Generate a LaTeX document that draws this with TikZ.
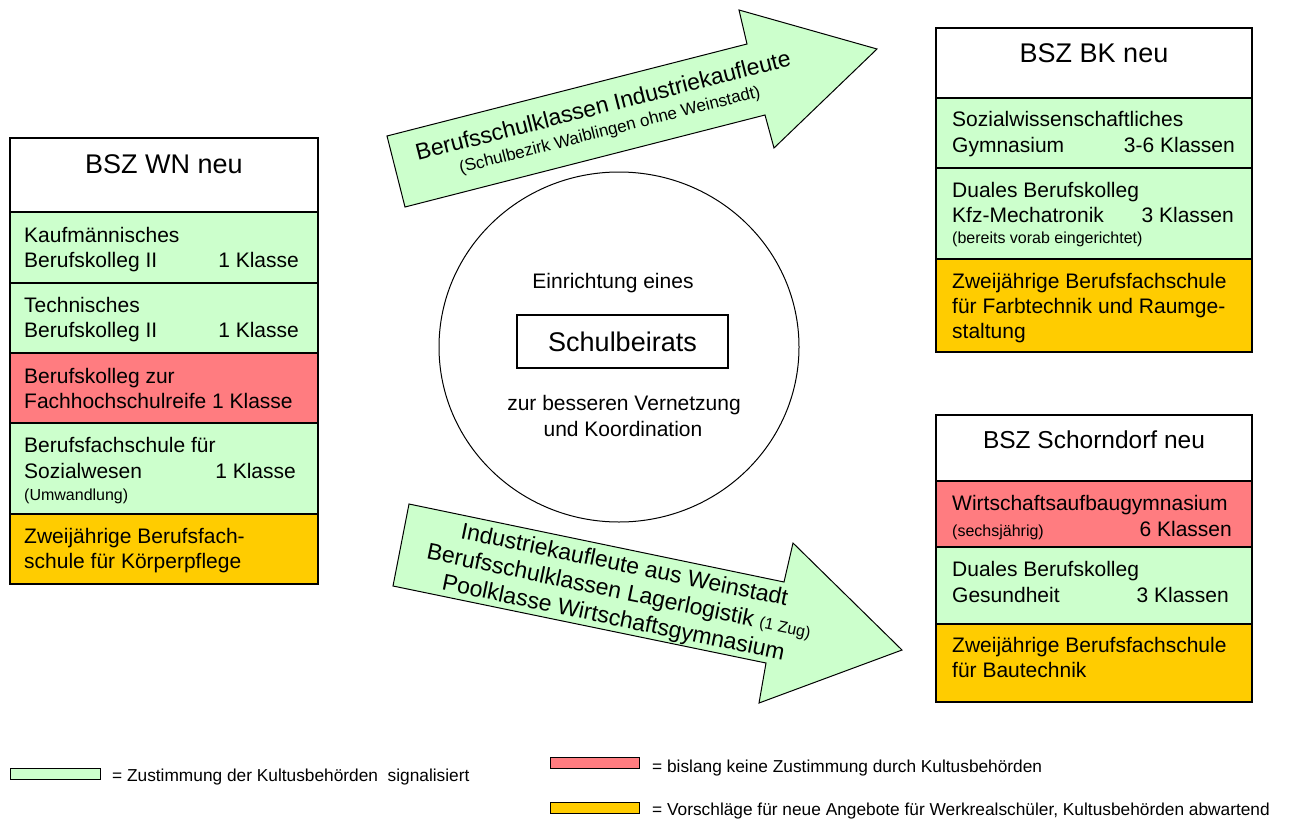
\documentclass[tikz,border=0pt]{standalone}
\usepackage{fontspec}
\setmainfont{Liberation Sans}
\usetikzlibrary{shapes.geometric}
\definecolor{gr}{HTML}{CCFFCC}
\definecolor{rd}{HTML}{FF7C80}
\definecolor{og}{HTML}{FFCC00}
\tikzset{
  cell/.style={draw=black, line width=1.2pt, anchor=north west, inner sep=0pt, outer sep=0pt},
  wncell/.style={cell, minimum width=308pt},
  rcell/.style={cell, minimum width=316pt},
  txt/.style={anchor=base west, inner sep=0pt, font=\fontsize{21}{25}\selectfont},
  rtxt/.style={anchor=base east, inner sep=0pt, font=\fontsize{21}{25}\selectfont},
  smalltxt/.style={anchor=base west, inner sep=0pt, font=\fontsize{16}{19}\selectfont},
  titletxt/.style={anchor=base, inner sep=0pt, font=\fontsize{26}{30}\selectfont},
  arrowshape/.style={draw=black, line width=1pt, fill=gr, line join=miter},
  arrtxt/.style={anchor=base, inner sep=0pt, font=\fontsize{23}{27}\selectfont},
  lgbox/.style={draw=black, line width=1.3pt, anchor=north west, inner sep=0pt, minimum height=11pt},
  lgtxt/.style={anchor=base west, inner sep=0pt, font=\fontsize{17.3}{20}\selectfont}
}
\begin{document}
\begin{tikzpicture}[x=1pt,y=-1pt]
\useasboundingbox[fill=white] (0,0) rectangle (1297,819);

% ---------- BSZ WN neu ----------
\node[wncell, fill=white, minimum height=74pt] (wn0) at (10,138) {};
\node[wncell, fill=gr, minimum height=71pt] (wn1) at (10,212) {};
\node[wncell, fill=gr, minimum height=70pt] (wn2) at (10,283) {};
\node[wncell, fill=rd, minimum height=70pt] (wn3) at (10,353) {};
\node[wncell, fill=gr, minimum height=91pt] (wn4) at (10,423) {};
\node[wncell, fill=og, minimum height=70pt] (wn5) at (10,514) {};
\node[titletxt, font=\fontsize{27}{30}\selectfont] (wnt) at (164,173) {BSZ WN neu};
\node[txt] (wn1a) at (24,242) {Kaufmännisches};
\node[txt] (wn1b) at (24,267) {Berufskolleg II};
\node[rtxt] (wn1c) at (299,267) {1 Klasse};
\node[txt] (wn2a) at (24,312) {Technisches};
\node[txt] (wn2b) at (24,337) {Berufskolleg II};
\node[rtxt] (wn2c) at (299,337) {1 Klasse};
\node[txt] (wn3a) at (24,383) {Berufskolleg zur};
\node[txt] (wn3b) at (24,408) {Fachhochschulreife 1 Klasse};
\node[txt] (wn4a) at (24,452) {Berufsfachschule für};
\node[txt] (wn4b) at (24,478) {Sozialwesen};
\node[rtxt] (wn4c) at (296,478) {1 Klasse};
\node[smalltxt] (wn4d) at (24,500) {(Umwandlung)};
\node[txt] (wn5a) at (24,543) {Zweijährige Berufsfach-};
\node[txt] (wn5b) at (24,568) {schule für Körperpflege};

% ---------- BSZ BK neu ----------
\node[rcell, fill=white, minimum height=70pt] (bk0) at (936,28) {};
\node[rcell, fill=gr, minimum height=70pt] (bk1) at (936,98) {};
\node[rcell, fill=gr, minimum height=91pt] (bk2) at (936,168) {};
\node[rcell, fill=og, minimum height=93pt] (bk3) at (936,259) {};
\node[titletxt, font=\fontsize{27}{30}\selectfont] (bkt) at (1094,62) {BSZ BK neu};
\node[txt] (bk1a) at (952,126) {Sozialwissenschaftliches};
\node[txt] (bk1b) at (952,152) {Gymnasium};
\node[rtxt] (bk1c) at (1235,152) {3-6 Klassen};
\node[txt] (bk2a) at (952,197) {Duales Berufskolleg};
\node[txt] (bk2b) at (952,222) {Kfz-Mechatronik};
\node[rtxt] (bk2c) at (1234,222) {3 Klassen};
\node[smalltxt] (bk2d) at (952,243) {(bereits vorab eingerichtet)};
\node[txt] (bk3a) at (952,288) {Zweijährige Berufsfachschule};
\node[txt] (bk3b) at (952,313) {für Farbtechnik und Raumge-};
\node[txt] (bk3c) at (952,338) {staltung};

% ---------- BSZ Schorndorf neu ----------
\node[rcell, fill=white, minimum height=66pt] (sc0) at (936,415) {};
\node[rcell, fill=rd, minimum height=66pt] (sc1) at (936,481) {};
\node[rcell, fill=gr, minimum height=77pt] (sc2) at (936,547) {};
\node[rcell, fill=og, minimum height=78pt] (sc3) at (936,624) {};
\node[titletxt, font=\fontsize{24.5}{28}\selectfont] (sct) at (1094,448) {BSZ Schorndorf neu};
\node[txt] (sc1a) at (952,510) {Wirtschaftsaufbaugymnasium};
\node[smalltxt] (sc1b) at (952,536) {(sechsjährig)};
\node[rtxt] (sc1c) at (1232,536) {6 Klassen};
\node[txt] (sc2a) at (952,576) {Duales Berufskolleg};
\node[txt] (sc2b) at (952,602) {Gesundheit};
\node[rtxt] (sc2c) at (1229,602) {3 Klassen};
\node[txt] (sc3a) at (952,652) {Zweijährige Berufsfachschule};
\node[txt] (sc3b) at (952,677) {für Bautechnik};

% ---------- centre circle ----------
\node[draw=black, line width=1pt, ellipse, minimum width=360pt, minimum height=350pt, inner sep=0pt] (circ) at (619,347) {};
\node[anchor=base, inner sep=0pt, font=\fontsize{21}{25}\selectfont] (ein) at (613,288) {Einrichtung eines};
\node[draw=black, line width=1.2pt, minimum width=211pt, minimum height=53pt, inner sep=0pt, font=\fontsize{27}{30}\selectfont] (sb) at (622.5,341.5) {Schulbeirats};
\node[anchor=base, inner sep=0pt, font=\fontsize{21}{25}\selectfont] (zur) at (624,410) {zur besseren Vernetzung};
\node[anchor=base, inner sep=0pt, font=\fontsize{21}{25}\selectfont] (und) at (623,436) {und Koordination};

% ---------- top arrow ----------
\coordinate (ta1) at (387,136);
\coordinate (ta2) at (747,44);
\coordinate (ta3) at (739,10);
\coordinate (ta4) at (877,49);
\coordinate (ta5) at (774,148);
\coordinate (ta6) at (765,115);
\coordinate (ta7) at (405,207);
\draw[arrowshape] (ta1) -- (ta2) -- (ta3) -- (ta4) -- (ta5) -- (ta6) -- (ta7) -- cycle;
\node[arrtxt, rotate=14.3] (tat1) at (605,113) {Berufsschulklassen Industriekaufleute};
\node[anchor=base, inner sep=0pt, rotate=14.3, font=\fontsize{17}{20}\selectfont] (tat2) at (611,135) {(Schulbezirk Waiblingen ohne Weinstadt)};

% ---------- bottom arrow ----------
\coordinate (ba1) at (409,504);
\coordinate (ba2) at (784,582);
\coordinate (ba3) at (793,543);
\coordinate (ba4) at (902,650);
\coordinate (ba5) at (759,703);
\coordinate (ba6) at (766,663);
\coordinate (ba7) at (393,586);
\draw[arrowshape] (ba1) -- (ba2) -- (ba3) -- (ba4) -- (ba5) -- (ba6) -- (ba7) -- cycle;
\node[arrtxt, rotate=-11.7] (bat1) at (623,572) {Industriekaufleute aus Weinstadt};
\node[arrtxt, rotate=-11.7] (bat2) at (617.5,598.5) {Berufsschulklassen Lagerlogistik {\fontsize{16}{18}\selectfont (1 Zug)}};
\node[arrtxt, rotate=-11.7] (bat3) at (612,625) {Poolklasse Wirtschaftsgymnasium};

% ---------- legend ----------
\node[lgbox, fill=gr, minimum width=90pt] (lg1) at (10,768) {};
\node[lgtxt] (lg1t) at (112,781) {= Zustimmung der Kultusbehörden\ \ signalisiert};
\node[lgbox, fill=rd, minimum width=89pt] (lg2) at (550,757) {};
\node[lgtxt] (lg2t) at (652,772) {= bislang keine Zustimmung durch Kultusbehörden};
\node[lgbox, fill=og, minimum width=89pt] (lg3) at (550,802) {};
\node[lgtxt] (lg3t) at (652,815) {= Vorschläge für neue Angebote für Werkrealschüler, Kultusbehörden abwartend};
\end{tikzpicture}
\end{document}
